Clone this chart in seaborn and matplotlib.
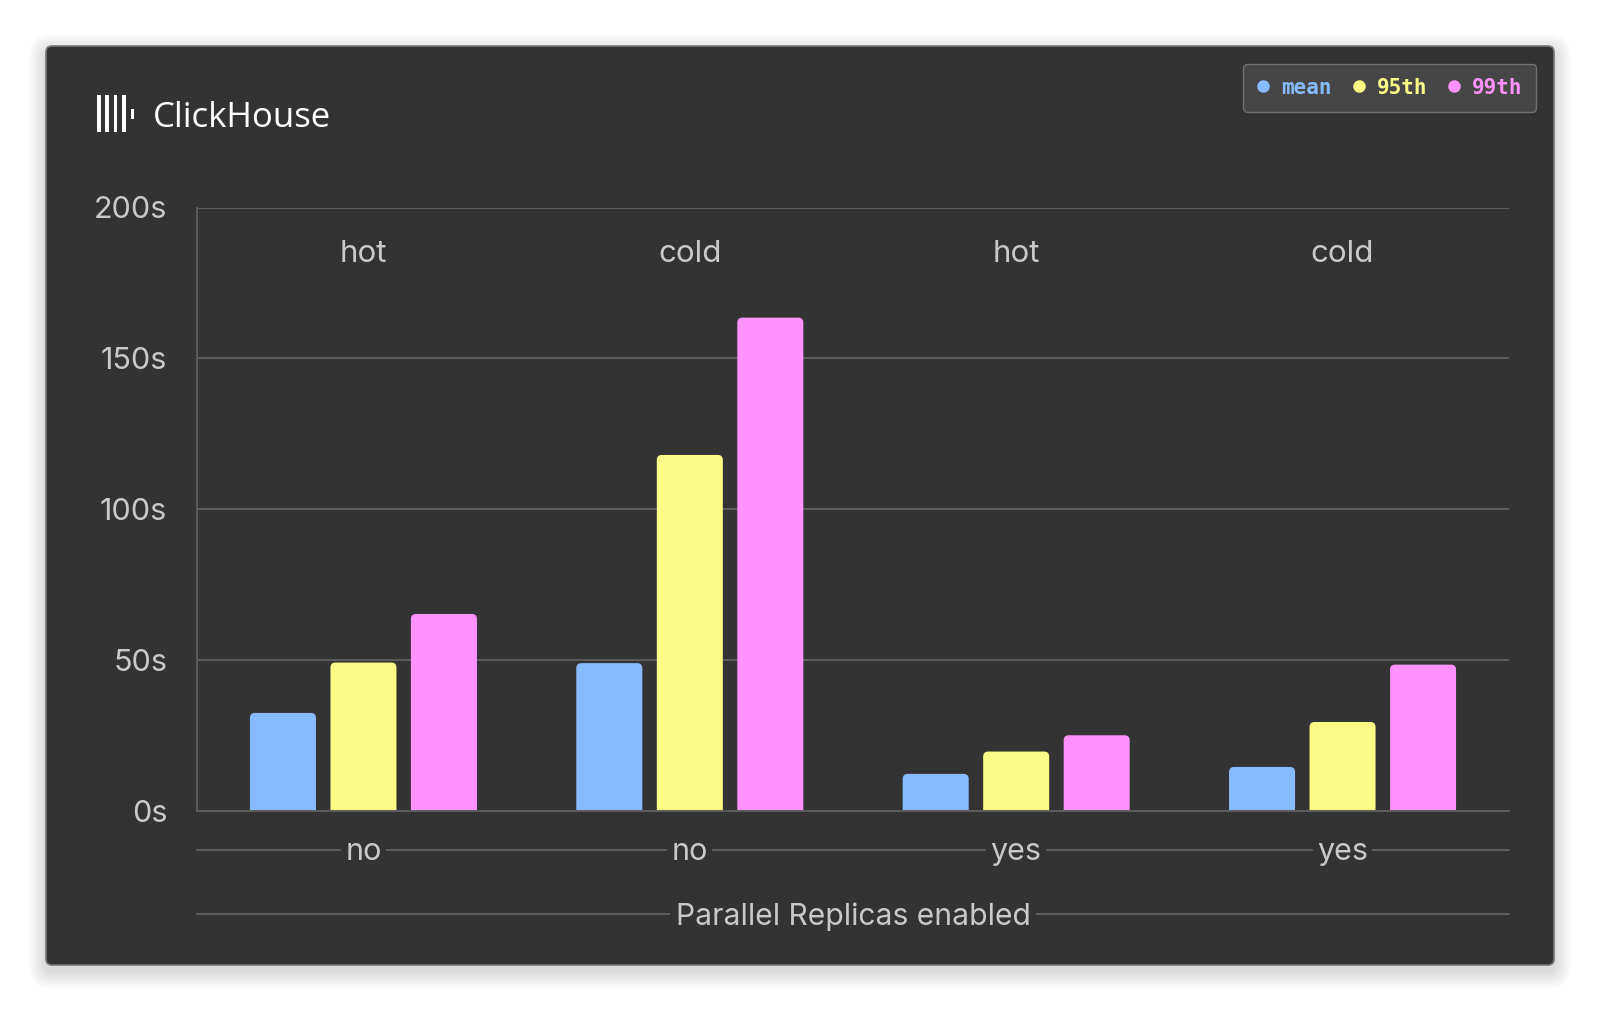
import numpy as np
import pandas as pd
import matplotlib
matplotlib.use("Agg")
import matplotlib.pyplot as plt
import seaborn as sns
from matplotlib.patches import FancyBboxPatch, Rectangle
from matplotlib.lines import Line2D
import matplotlib.transforms as mtransforms

# ---------------- data ----------------
temperature = ["hot", "cold", "hot", "cold"]
parallel_replicas = ["no", "no", "yes", "yes"]
metrics = ["mean", "95th", "99th"]
mean_s = [32.5, 49.0, 12.3, 14.6]
p95_s = [49.2, 118.0, 19.7, 29.5]
p99_s = [65.3, 163.5, 25.1, 48.5]
y_ticks = [0, 50, 100, 150, 200]
y_tick_labels = ["0s", "50s", "100s", "150s", "200s"]
colors = ["#86BCFF", "#FCFB86", "#FF92FC"]

group_keys = [f"g{i}" for i in range(len(temperature))]
rows = []
for i, g in enumerate(group_keys):
    for m, vals in zip(metrics, [mean_s, p95_s, p99_s]):
        rows.append({"group": g, "metric": m, "seconds": vals[i]})
df = pd.DataFrame(rows)

# ---------------- style ----------------
sns.set_style("dark")
plt.rcParams["font.family"] = ["Inter", "DejaVu Sans"]

W, H = 1600, 1011
fig = plt.figure(figsize=(W / 100, H / 100), dpi=100)
fig.patch.set_facecolor("white")

BG = "#333333"
GRID = "#5d5d5d"
TXT = "#c9c9c9"
FS = 22

def fx(px):
    return px / W

def fy(py):
    return 1 - py / H

# panel shadow + panel
px0, py0, px1, py1 = 46, 46, 1554, 965
for k in range(18, 0, -1):
    sh = FancyBboxPatch((fx(px0 - k), fy(py1 + k + 6)), fx(px1 - px0 + 2 * k), (py1 - py0 + 2 * k) / H,
                        boxstyle="round,pad=0,rounding_size=%f" % (fx(6 + k)),
                        mutation_aspect=W / H, transform=fig.transFigure,
                        fc="black", ec="none", alpha=0.009, zorder=-20)
    fig.add_artist(sh)
panel = FancyBboxPatch((fx(px0), fy(py1)), fx(px1 - px0), (py1 - py0) / H,
                       boxstyle="round,pad=0,rounding_size=%f" % fx(6),
                       mutation_aspect=W / H, transform=fig.transFigure,
                       fc=BG, ec="#777777", lw=1.2, zorder=-10)
fig.add_artist(panel)

# axes
ax_l, ax_r, ax_t, ax_b = 197, 1509, 207.5, 811
ax = fig.add_axes([fx(ax_l), fy(ax_b), fx(ax_r - ax_l), (ax_b - ax_t) / H])
ax.set_facecolor("none")

sns.barplot(data=df, x="group", y="seconds", hue="metric", order=group_keys,
            hue_order=metrics, palette=colors, width=0.74, gap=0.18,
            saturation=1, legend=False, errorbar=None, linewidth=0, ax=ax)

ax.set_xlim(-0.51, len(group_keys) - 0.49)
ax.set_ylim(0, 200)

# rounded top corners
px_x = ax.bbox.width / (len(group_keys) + 0.02)
px_y = ax.bbox.height / 200.0
aspect = px_x / px_y
r = 5.0 / px_x
for p in list(ax.patches):
    x, w, h = p.get_x(), p.get_width(), p.get_height()
    fc = p.get_facecolor()
    p.remove()
    nb = FancyBboxPatch((x, -r * aspect), w, h + r * aspect,
                        boxstyle="round,pad=0,rounding_size=%f" % r,
                        mutation_aspect=aspect, fc=fc, ec="none", zorder=2)
    ax.add_patch(nb)

# grid / spines
ax.set_yticks(y_ticks)
ax.set_yticklabels(y_tick_labels)
ax.yaxis.grid(True, color=GRID, lw=1.4)
ax.xaxis.grid(False)
ax.set_axisbelow(True)
for s in ["top", "right"]:
    ax.spines[s].set_visible(False)
for s in ["left", "bottom"]:
    ax.spines[s].set_visible(True)
    ax.spines[s].set_color(GRID)
    ax.spines[s].set_linewidth(1.4)
ax.tick_params(axis="y", length=0, pad=21.5, labelsize=FS, labelcolor=TXT)

# x tick labels (parallel replicas) with line through
ax.set_xticks(range(len(group_keys)))
ax.set_xticklabels(parallel_replicas)
ax.tick_params(axis="x", length=0, pad=19.5, labelsize=FS, labelcolor=TXT)
for lbl in ax.get_xticklabels():
    lbl.set_bbox(dict(fc=BG, ec="none", pad=3))
fig.add_artist(Line2D([fx(ax_l), fx(ax_r)], [fy(850), fy(850)], color=GRID, lw=1.4,
                      transform=fig.transFigure, zorder=-1))

# x axis label
ax.set_xlabel("Parallel Replicas enabled", fontsize=21.6, color=TXT)
ax.xaxis.label.set_va("center")
ax.xaxis.label.set_bbox(dict(fc=BG, ec="none", pad=4))
ax.xaxis.set_label_coords(0.5, (ax_b - 917) / (ax_b - ax_t))
fig.add_artist(Line2D([fx(ax_l), fx(ax_r)], [fy(914), fy(914)], color=GRID, lw=1.4,
                      transform=fig.transFigure, zorder=-1))
ax.set_ylabel("")

# temperature labels
trans = mtransforms.blended_transform_factory(ax.transData, ax.transAxes)
for i, t in enumerate(temperature):
    ax.text(i, (ax_b - 254) / (ax_b - ax_t), t, transform=trans, ha="center",
            va="center", fontsize=FS + 0.5, color=TXT)

# title with logo
for k in range(4):
    fig.add_artist(Rectangle((fx(97 + 8.4 * k), fy(132)), fx(3.7), 37 / H,
                             transform=fig.transFigure, fc="white", ec="none"))
fig.add_artist(Rectangle((fx(130.8), fy(118.5)), fx(3.5), 10 / H,
                         transform=fig.transFigure, fc="white", ec="none"))
fig.text(fx(153), fy(118), "ClickHouse", fontsize=25, color="white",
         ha="left", va="center", family=["Open Sans", "DejaVu Sans"])

# legend
handles = [Line2D([], [], ls="none", marker="o", markersize=8, mfc=c, mec=c)
           for c in colors]
leg = ax.legend(handles, metrics, loc="upper right", ncol=3,
                bbox_to_anchor=(fx(1536), fy(64)), bbox_transform=fig.transFigure,
                frameon=True, facecolor="#464646", edgecolor="#707070", framealpha=1,
                fancybox=True, borderaxespad=0, borderpad=0.66,
                handlelength=0.6, handletextpad=0.55, columnspacing=1.0,
                labelcolor=colors,
                prop={"family": "DejaVu Sans Mono", "weight": "bold", "size": 15})
leg.get_frame().set_linewidth(1.0)

fig.savefig("out.png", dpi=100, facecolor="white")
